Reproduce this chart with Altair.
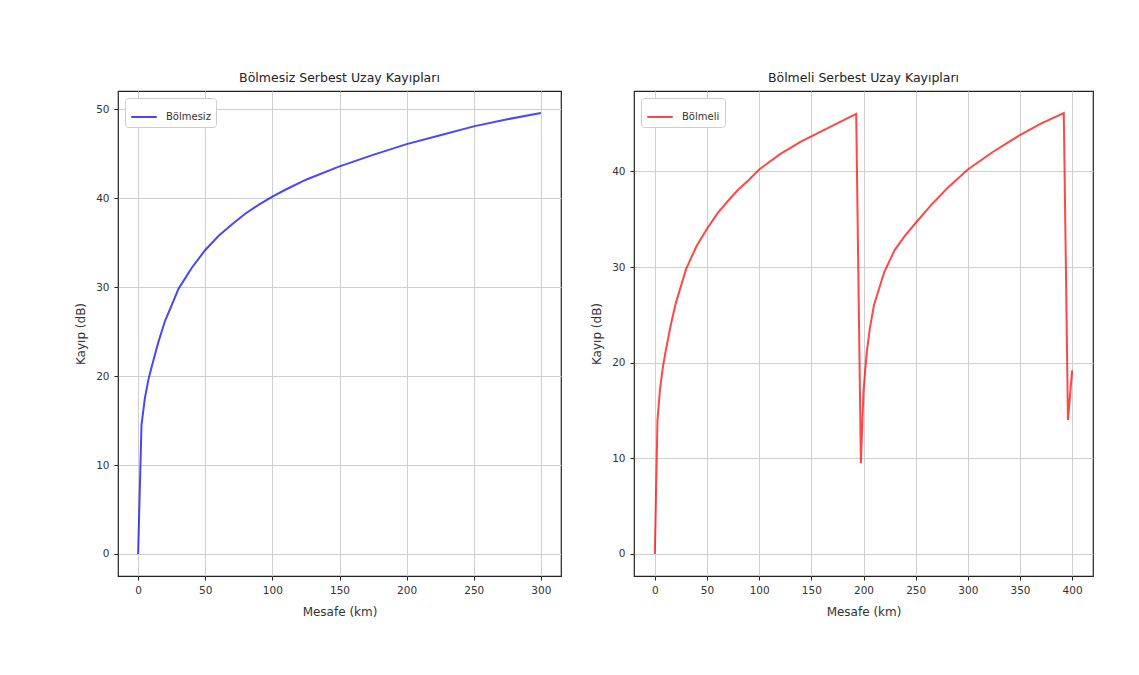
import altair as alt
import pandas as pd

# ---- data ----
left_km = [0, 2.5, 5, 7.5, 10, 15, 20, 25, 30, 35, 40, 50, 60, 70, 80, 90, 100,
           110, 125, 150, 175, 200, 225, 250, 275, 300]
left_db = [0, 14.5, 17.5, 19.5, 21.0, 23.8, 26.2, 28.0, 29.8, 31.0, 32.2, 34.2,
           35.8, 37.1, 38.3, 39.3, 40.2, 41.0, 42.1, 43.6, 44.9, 46.1, 47.1, 48.1,
           48.9, 49.6]

right_km = [0, 2.5, 5, 7.5, 10, 15, 20, 25, 30, 40, 50, 60, 70, 80, 90, 100, 120,
            140, 160, 180, 193, 197.5, 200, 203, 206, 210, 220, 230, 240, 250, 265,
            280, 300, 325, 350, 370, 392, 396, 400]
right_db = [0, 14.0, 17.3, 19.4, 21.0, 23.8, 26.2, 28.0, 29.8, 32.2, 34.0, 35.6,
            36.9, 38.1, 39.1, 40.2, 41.8, 43.1, 44.2, 45.3, 46.0, 9.5, 17.0, 21.0,
            23.5, 26.0, 29.5, 31.8, 33.3, 34.6, 36.5, 38.2, 40.2, 42.1, 43.8, 45.0,
            46.1, 14.0, 19.2]

left_name = "Bölmesiz"
right_name = "Bölmeli"
left_title = "Bölmesiz Serbest Uzay Kayıpları"
right_title = "Bölmeli Serbest Uzay Kayıpları"
x_title = "Mesafe (km)"
y_title = "Kayıp (dB)"

left_xticks = [0, 50, 100, 150, 200, 250, 300]
left_yticks = [0, 10, 20, 30, 40, 50]
right_xticks = [0, 50, 100, 150, 200, 250, 300, 350, 400]
right_yticks = [0, 10, 20, 30, 40]

df_left = pd.DataFrame({"km": left_km, "db": left_db, "seri": left_name})
df_right = pd.DataFrame({"km": right_km, "db": right_db, "seri": right_name})

FONT = "DejaVu Sans"


def panel(df, name, color, title, xdom, ydom, xticks, yticks, w, h):
    legend = alt.Legend(
        title=None, orient="none", legendX=7, legendY=7,
        symbolType="stroke", symbolStrokeWidth=2, symbolSize=650,
        strokeColor="#cccccc", fillColor="white", padding=5, cornerRadius=3,
        labelFontSize=10, labelFont=FONT, labelOffset=8, labelColor="#333",
    )
    return alt.Chart(df, title=alt.TitleParams(title, fontSize=12.5, font=FONT,
                                               fontWeight="normal", offset=7,
                                               color="#222")).mark_line(
        strokeWidth=2, opacity=0.72
    ).encode(
        x=alt.X("km:Q", title=x_title,
                scale=alt.Scale(domain=xdom, nice=False, zero=False),
                axis=alt.Axis(values=xticks, format="d", titlePadding=11)),
        y=alt.Y("db:Q", title=y_title,
                scale=alt.Scale(domain=ydom, nice=False, zero=False),
                axis=alt.Axis(values=yticks, format="d")),
        color=alt.Color("seri:N", scale=alt.Scale(domain=[name], range=[color]),
                        legend=legend),
        order=alt.Order("km:Q"),
    ).properties(width=w, height=h)


left = panel(df_left, left_name, "#0000ff", left_title, [-15, 315],
             [-2.48, 52.08], left_xticks, left_yticks, 443, 485)
right = panel(df_right, right_name, "#ff0000", right_title, [-20, 420],
              [-2.3, 48.4], right_xticks, right_yticks, 459, 485)

chart = alt.hconcat(left, right, spacing=28).resolve_scale(
    color="independent"
).properties(
    padding={"left": 66, "top": 62, "right": 10, "bottom": 10},
    background="white",
).configure_view(
    stroke="#222", strokeWidth=1.2
).configure_axis(
    domain=False, grid=True, gridColor="#cfcfcf", gridWidth=1,
    ticks=True, tickColor="#222", tickSize=4, tickWidth=1,
    labelFont=FONT, labelFontSize=10.5, labelColor="#333", labelPadding=5,
    titleFont=FONT, titleFontSize=12, titleFontWeight="normal",
    titleColor="#333", titlePadding=8,
)

chart.save("out.html", embed_options={"renderer": "svg", "actions": False})
